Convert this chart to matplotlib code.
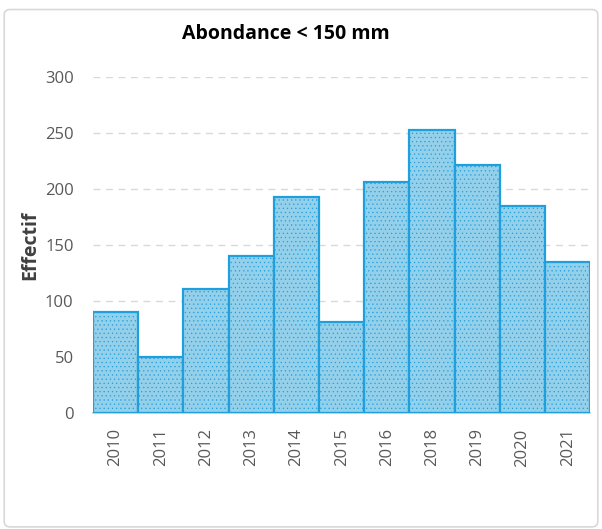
import matplotlib.pyplot as plt
from matplotlib.patches import FancyBboxPatch

# data
years = ['2010', '2011', '2012', '2013', '2014', '2015', '2016', '2018', '2019', '2020', '2021']
effectif = [90, 50, 111, 140, 193, 81, 206, 253, 221, 185, 135]

plt.rcParams['font.family'] = ['Open Sans', 'DejaVu Sans']
plt.rcParams['hatch.color'] = '#8ccbe8'
plt.rcParams['hatch.linewidth'] = 0.4

fig = plt.figure(figsize=(6.02, 5.29), dpi=100)

# outer border of the chart area
border = FancyBboxPatch((0.007, 0.004), 0.986, 0.978, boxstyle='round,pad=0,rounding_size=0.01',
                        transform=fig.transFigure, facecolor='none', edgecolor='#d9d9d9',
                        linewidth=1.2, zorder=-1)
fig.patches.append(border)

ax = fig.add_axes([0.1545, 0.2193, 0.826, 0.6351])
ax.patch.set_alpha(0)
x = range(len(years))
ax.bar(x, effectif, width=1.0, color='#95d0eb', edgecolor='#1f9fdc', linewidth=1.6,
       hatch='....', zorder=3)

ax.set_ylim(0, 300)
ax.set_xlim(-0.5, len(years) - 0.5)
ax.set_yticks(range(0, 301, 50))
ax.yaxis.grid(True, linestyle=(0, (5, 4)), color='#d9d9d9', linewidth=1)
ax.set_axisbelow(True)

for s in ['top', 'right', 'left']:
    ax.spines[s].set_visible(False)
ax.spines['bottom'].set_color('#a6cfe6')
ax.spines['bottom'].set_linewidth(1.2)

ax.set_xticks(list(x))
ax.set_xticklabels(years, rotation=90, fontsize=12, color='#595959')
ax.tick_params(axis='y', labelsize=12, labelcolor='#595959', length=0, pad=14)
ax.tick_params(axis='x', length=0, pad=11)

ax.set_ylabel('Effectif', fontsize=14, fontweight='bold', color='#404040', labelpad=3)
fig.text(0.475, 0.935, 'Abondance < 150 mm', ha='center', va='center',
         fontsize=14, fontweight='bold', color='black')

fig.savefig('out.png', dpi=100)
